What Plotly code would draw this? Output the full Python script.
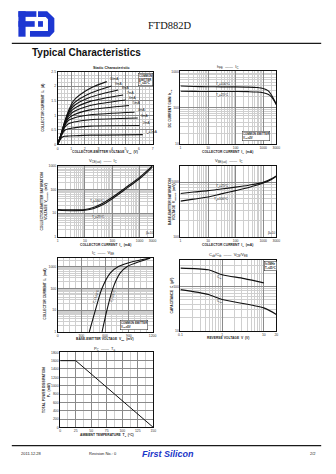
import math
import plotly.graph_objects as go

SANS = "Liberation Sans, Arial, sans-serif"
SERIF = "Liberation Serif, Times New Roman, serif"
INK = "#111111"

# ---------------- data ----------------
# Static characteristic: I_C (A) vs V_CE (V), one curve per base current
ib_labels = ["I<sub>B</sub>=1mA", "2mA", "3mA", "4mA", "5mA", "6mA", "7mA", "8mA", "9mA", "10mA"]
static_vce_knee = [0, 0.15, 0.3, 0.5, 0.8, 1.2, 2.4]
static_vce_end = [6.28, 6.04, 5.91, 5.67, 5.26, 5.02, 4.83, 4.46, 3.98, 3.62]
static_ic = [
    [0, 0.14, 0.24, 0.28, 0.29, 0.30, 0.32, 0.34],
    [0, 0.17, 0.33, 0.48, 0.54, 0.57, 0.63, 0.65],
    [0, 0.18, 0.36, 0.58, 0.71, 0.77, 0.85, 0.91],
    [0, 0.19, 0.38, 0.63, 0.83, 0.91, 1.02, 1.11],
    [0, 0.19, 0.39, 0.66, 0.90, 1.02, 1.19, 1.34],
    [0, 0.20, 0.40, 0.68, 0.97, 1.13, 1.34, 1.53],
    [0, 0.20, 0.41, 0.70, 1.03, 1.23, 1.48, 1.70],
    [0, 0.20, 0.42, 0.72, 1.08, 1.33, 1.62, 1.87],
    [0, 0.21, 0.43, 0.74, 1.12, 1.42, 1.76, 2.01],
    [0, 0.21, 0.44, 0.76, 1.16, 1.52, 1.93, 2.16],
]

# DC current gain vs collector current (mA)
hfe_ic = [1, 3, 10, 30, 100, 300, 600, 1000, 1500, 2000, 2500, 3000]
hfe_100c = [395, 385, 378, 376, 375, 370, 360, 340, 295, 225, 165, 125]
hfe_25c = [285, 282, 280, 280, 279, 277, 272, 258, 235, 200, 155, 120]

# Collector-emitter saturation voltage (mV) vs I_C (mA)
vcesat_ic = [1, 3, 10, 20, 50, 100, 300, 1000, 2000, 3000]
vcesat_100c = [14, 13.5, 14, 17, 28, 46, 115, 320, 640, 1000]
vcesat_25c = [13, 12.5, 13, 15, 24, 40, 100, 280, 560, 880]

# Base-emitter saturation voltage (mV) vs I_C (mA)
vbesat_ic = [1, 3, 10, 30, 100, 300, 1000, 2000, 3000]
vbesat_25c = [620, 660, 700, 750, 810, 880, 990, 1150, 1300]
vbesat_100c = [450, 490, 535, 610, 700, 800, 960, 1120, 1280]

# Collector current (mA) vs base-emitter voltage (mV)
vbe_ic = [1, 10, 100, 500, 1000, 1700, 2400]
vbe_100c = [400, 477, 561, 664, 768, 954, 1162]
vbe_25c = [561, 623, 698, 789, 880, 1038, 1171]

# Input / output capacitance (pF) vs reverse voltage (V)
cib_vr = [0.1, 0.47, 1, 3.4, 10]
cib_pf = [260, 238, 185, 151, 121]
cob_vr = [0.1, 0.47, 1, 10, 20]
cob_pf = [85, 66, 51, 33, 23.5]

# Power derating: P_C (mW) vs ambient temperature (°C)
pc_ta = [0, 25, 150]
pc_mw = [1600, 1600, 0]

# tick labels
lin_p1_x = [0, 1, 2, 3, 4, 5, 6, 7]
lin_p1_y = [0, 0.5, 1.0, 1.5, 2.0, 2.5]
log_ic_ticks = [1, 10, 100, 1000, 3000]
hfe_ticks = [10, 100, 1000]
vcesat_ticks = [1, 10, 100, 1000]
vbesat_ticks = [100, 1000]
vbe_x_ticks = [0, 300, 600, 900, 1200]
vbe_y_ticks = [1, 10, 100, 1000]
cap_x_ticks = [0.1, 1, 10, 20]
cap_y_ticks = [10, 100]
pc_x_ticks = [0, 25, 50, 75, 100, 125, 150]
pc_y_ticks = [0, 200, 400, 600, 800, 1000, 1200, 1400, 1600, 1800]

# ---------------- page geometry (pixels) ----------------
W, H = 336, 474


def fx(p):
    return p / W


def fy(p):
    return 1 - p / H


# panel frames: left, right, top, bottom
boxes = {
    1: (56.7, 153.3, 70.3, 143.7),
    2: (181.7, 279.3, 70.0, 143.3),
    3: (56.7, 153.3, 165.0, 236.7),
    4: (181.7, 279.3, 165.0, 237.0),
    5: (56.7, 153.3, 257.7, 332.7),
    6: (181.7, 279.3, 260.0, 331.7),
    7: (59.3, 154.0, 353.3, 429.0),
}

fig = go.Figure()


def curve(x, y, n, width=1.1, shape="spline"):
    fig.add_trace(go.Scatter(
        x=x, y=y, mode="lines",
        line=dict(color=INK, width=width, shape=shape, smoothing=0.8),
        xaxis="x" if n == 1 else f"x{n}", yaxis="y" if n == 1 else f"y{n}",
        showlegend=False, hoverinfo="skip", cliponaxis=True))


def fmt(v):
    return f"{v:g}"


TICKFONT = dict(family=SANS, size=3.4, color="#333")
MAJOR = "#8a8a8a"
MINOR = "#cfcfcf"


def axis(n, kind, **kw):
    l, r, t, b = boxes[n]
    base = dict(showline=True, linecolor="#111", linewidth=0.9, mirror=True,
                showgrid=True, gridcolor=MAJOR, gridwidth=0.5, zeroline=False,
                ticks="", tickfont=TICKFONT, fixedrange=True, ticklen=0)
    if kind == "x":
        base["domain"] = [fx(l), fx(r)]
        base["anchor"] = "y" if n == 1 else f"y{n}"
    else:
        base["domain"] = [fy(b), fy(t)]
        base["anchor"] = "x" if n == 1 else f"x{n}"
    base.update(kw)
    return base


def log_minor(lo, hi):
    vals = []
    e = math.floor(math.log10(lo))
    while 10 ** e <= hi:
        for m in range(2, 10):
            v = m * 10 ** e
            if lo < v < hi:
                vals.append(v)
        e += 1
    return vals


def log_axis(n, kind, lo, hi, ticks):
    return axis(n, kind, type="log", range=[math.log10(lo), math.log10(hi)],
                tickmode="array", tickvals=ticks, ticktext=[fmt(t) for t in ticks],
                minor=dict(showgrid=True, gridcolor=MINOR, gridwidth=0.4,
                           tickmode="array", tickvals=log_minor(lo, hi), ticks=""))


def lin_axis(n, kind, lo, hi, ticks, minor_step):
    return axis(n, kind, range=[lo, hi], tickmode="array", tickvals=ticks,
                ticktext=[fmt(t) for t in ticks],
                minor=dict(showgrid=True, gridcolor=MINOR, gridwidth=0.4,
                           dtick=minor_step, tick0=lo, ticks=""))


layout_axes = {}
layout_axes["xaxis"] = lin_axis(1, "x", 0, 7, lin_p1_x, 0.25)
layout_axes["yaxis"] = lin_axis(1, "y", 0, 2.5, lin_p1_y, 0.125)
layout_axes["xaxis2"] = log_axis(2, "x", 1, 3000, log_ic_ticks)
layout_axes["yaxis2"] = log_axis(2, "y", 10, 1000, hfe_ticks)
layout_axes["xaxis3"] = log_axis(3, "x", 1, 3000, log_ic_ticks)
layout_axes["yaxis3"] = log_axis(3, "y", 1, 1000, vcesat_ticks)
layout_axes["xaxis4"] = log_axis(4, "x", 1, 3000, log_ic_ticks)
layout_axes["yaxis4"] = log_axis(4, "y", 100, 2000, vbesat_ticks)
layout_axes["xaxis5"] = lin_axis(5, "x", 0, 1200, vbe_x_ticks, 75)
layout_axes["yaxis5"] = log_axis(5, "y", 1, 2600, vbe_y_ticks)
layout_axes["xaxis6"] = log_axis(6, "x", 0.1, 20, cap_x_ticks)
layout_axes["yaxis6"] = log_axis(6, "y", 10, 400, cap_y_ticks)
layout_axes["xaxis7"] = lin_axis(7, "x", 0, 150, pc_x_ticks, 12.5)
layout_axes["yaxis7"] = lin_axis(7, "y", 0, 1800, pc_y_ticks, 200)

# ---------------- curves ----------------
for vals, xend in zip(static_ic, static_vce_end):
    curve(static_vce_knee + [xend], vals, 1)

curve(hfe_ic, hfe_100c, 2)
curve(hfe_ic, hfe_25c, 2)
curve(vcesat_ic, vcesat_100c, 3)
curve(vcesat_ic, vcesat_25c, 3)
curve(vbesat_ic, vbesat_25c, 4)
curve(vbesat_ic, vbesat_100c, 4)
curve(vbe_100c, vbe_ic, 5)
curve(vbe_25c, vbe_ic, 5)
curve(cib_vr, cib_pf, 6)
curve(cob_vr, cob_pf, 6)
curve(pc_ta, pc_mw, 7, width=1.0, shape="linear")

# ---------------- text ----------------
ann = []


def text(x, y, s, size=3.6, xanchor="center", yanchor="middle", angle=0,
         family=SANS, color="#222", **kw):
    ann.append(dict(x=fx(x), y=fy(y), xref="paper", yref="paper", text=s,
                    showarrow=False, xanchor=xanchor, yanchor=yanchor,
                    textangle=angle, font=dict(family=family, size=size, color=color), **kw))


def boxed(x, y, s, size=3.0, xanchor="left"):
    text(x, y, s, size=size, xanchor=xanchor, bordercolor="#222", borderwidth=0.5,
         borderpad=0.6, bgcolor="white", align="left")


# base-current labels at each curve end
for lab, vals, xend in zip(ib_labels, static_ic, static_vce_end):
    ann.append(dict(x=xend + 0.12, y=vals[-1] + 0.08, xref="x", yref="y", text=lab,
                    showarrow=False, xanchor="left", yanchor="middle",
                    font=dict(family=SANS, size=3.2, color="#222")))

# panel titles
text(111, 66.3, "<b>Static Characteristic</b>", size=3.8)
text(230, 65.5, "h<sub>FE</sub>  ——  I<sub>C</sub>", size=4)
text(103, 160.5, "V<sub>CE(sat)</sub>  ——  I<sub>C</sub>", size=4)
text(231, 160.5, "V<sub>BE(sat)</sub>  ——  I<sub>C</sub>", size=4)
text(103, 253.5, "I<sub>C</sub>  ——  V<sub>BE</sub>", size=4)
text(231, 255, "C<sub>ob</sub>/C<sub>ib</sub>  ——  V<sub>CB</sub>/V<sub>EB</sub>", size=4)
text(105, 349.5, "P<sub>C</sub>  ——  T<sub>a</sub>", size=4)

# axis titles
text(105, 151, "<b>COLLECTOR-EMITTER VOLTAGE  V<sub>CE</sub>  (V)</b>", size=3.3)
text(41.5, 107, "<b>COLLECTOR CURRENT  I<sub>C</sub>  (A)</b>", size=3.3, angle=-90)
text(230, 151, "<b>COLLECTOR CURRENT  I<sub>C</sub>  (mA)</b>", size=3.3)
text(171.5, 107, "<b>DC CURRENT GAIN  h<sub>FE</sub></b>", size=3.3, angle=-90)
text(105, 245, "<b>COLLECTOR CURRENT  I<sub>C</sub>  (mA)</b>", size=3.3)
text(43, 201, "<b>COLLECTOR-EMITTER SATURATION<br>VOLTAGE  V<sub>CE(sat)</sub>  (mV)</b>",
     size=3.3, angle=-90)
text(230, 245.5, "<b>COLLECTOR CURRENT  I<sub>C</sub>  (mA)</b>", size=3.3)
text(173, 201, "<b>BASE-EMITTER SATURATION<br>VOLTAGE  V<sub>BE(sat)</sub>  (mV)</b>",
     size=3.3, angle=-90)
text(105, 340, "<b>BASE-EMITTER VOLTAGE  V<sub>BE</sub>  (mV)</b>", size=3.3)
text(43, 295, "<b>COLLECTOR CURRENT  I<sub>C</sub>  (mA)</b>", size=3.3, angle=-90)
text(230, 339, "<b>REVERSE VOLTAGE  V  (V)</b>", size=3.3)
text(173, 296, "<b>CAPACITANCE  C  (pF)</b>", size=3.3, angle=-90)
text(107, 436.5, "<b>AMBIENT TEMPERATURE  T<sub>a</sub>  (°C)</b>", size=3.3)
text(45, 391, "<b>TOTAL POWER DISSIPATION<br>P<sub>C</sub>  (mW)</b>", size=3.3, angle=-90)

# in-plot notes
boxed(138.5, 78.5, "<b>COMMON<br>EMITTER<br>T<sub>c</sub>=25°C</b>", size=2.8)
text(216, 82.5, "T<sub>c</sub>=100°C", size=3.2, xanchor="left")
text(216, 93.5, "T<sub>c</sub>=25°C", size=3.2, xanchor="left")
boxed(244, 135.5, "<b>COMMON EMITTER<br>V<sub>CE</sub>=2V</b>", size=2.8)
text(88, 201, "T<sub>c</sub>=100°C", size=3.2, xanchor="left")
text(90, 216.5, "T<sub>c</sub>=25°C", size=3.2, xanchor="left")
text(145, 233, "β=10", size=3.2, xanchor="left")
text(216, 185.5, "T<sub>c</sub>=25°C", size=3.2, xanchor="left")
text(214, 199, "T<sub>c</sub>=100°C", size=3.2, xanchor="left")
text(269, 233, "β=10", size=3.2, xanchor="left")
text(95.5, 296, "T<sub>c</sub>=100°C", size=3.2, angle=-72)
text(112.5, 296, "T<sub>c</sub>=25°C", size=3.2, angle=-74)
boxed(120, 325.5, "<b>COMMON EMITTER<br>V<sub>CE</sub>=5V</b>", size=2.8)
text(217, 277.5, "C<sub>ib</sub>", size=3.4, xanchor="left")
text(217, 302.5, "C<sub>ob</sub>", size=3.4, xanchor="left")
boxed(267, 266.5, "<b>f=1MHz<br>T<sub>c</sub>=25°C</b>", size=2.8)

# header / footer text
text(171.5, 23.5, "FTD882D", size=10.5, family=SERIF, color="#111")
text(29, 50.5, "<b>Typical Characteristics</b>", size=10, xanchor="left", color="#111")
text(17, 455.5, "2011.12.28", size=4, xanchor="left")
text(87, 455.5, "Revision No.: 0", size=4, xanchor="left")
text(169, 455.5, "<b><i>First Silicon</i></b>", size=9, family=SANS, color="#1a36c8")
text(312, 455.5, "2/2", size=4, xanchor="left")

# ---------------- shapes: rules and logo ----------------
shapes = []
for yy in (41.7, 447.3):
    shapes.append(dict(type="line", xref="paper", yref="paper", x0=fx(10), x1=fx(325),
                       y0=fy(yy), y1=fy(yy), line=dict(color="#1a1a1a", width=1.3)))

BLUE = "#1d37d2"


def rect(x0, y0, x1, y1):
    shapes.append(dict(type="rect", xref="paper", yref="paper", x0=fx(x0), x1=fx(x1),
                       y0=fy(y1), y1=fy(y0), fillcolor=BLUE, line=dict(width=0)))


def poly(points):
    d = "M " + " L ".join(f"{fx(a):.5f},{fy(b):.5f}" for a, b in points) + " Z"
    shapes.append(dict(type="path", xref="paper", yref="paper", path=d,
                       fillcolor=BLUE, line=dict(width=0)))


# "F"
rect(16.7, 9.3, 35.0, 15.0)
rect(16.7, 9.3, 24.0, 35.0)
rect(16.7, 19.3, 33.3, 25.0)
# "S"
poly([(36.7, 9.3), (46.0, 9.3), (53.3, 16.5), (53.3, 30.0),
      (48.5, 35.0), (28.5, 35.0), (28.5, 29.3), (46.8, 29.3),
      (46.8, 17.5), (44.5, 15.0), (36.7, 15.0)])
rect(36.7, 19.3, 41.7, 25.0)

fig.update_layout(
    width=W, height=H, margin=dict(l=0, r=0, t=0, b=0),
    paper_bgcolor="white", plot_bgcolor="white",
    annotations=ann, shapes=shapes, showlegend=False,
    font=dict(family=SANS),
    **layout_axes,
)

fig.write_html("out.html", config={"displayModeBar": False})
